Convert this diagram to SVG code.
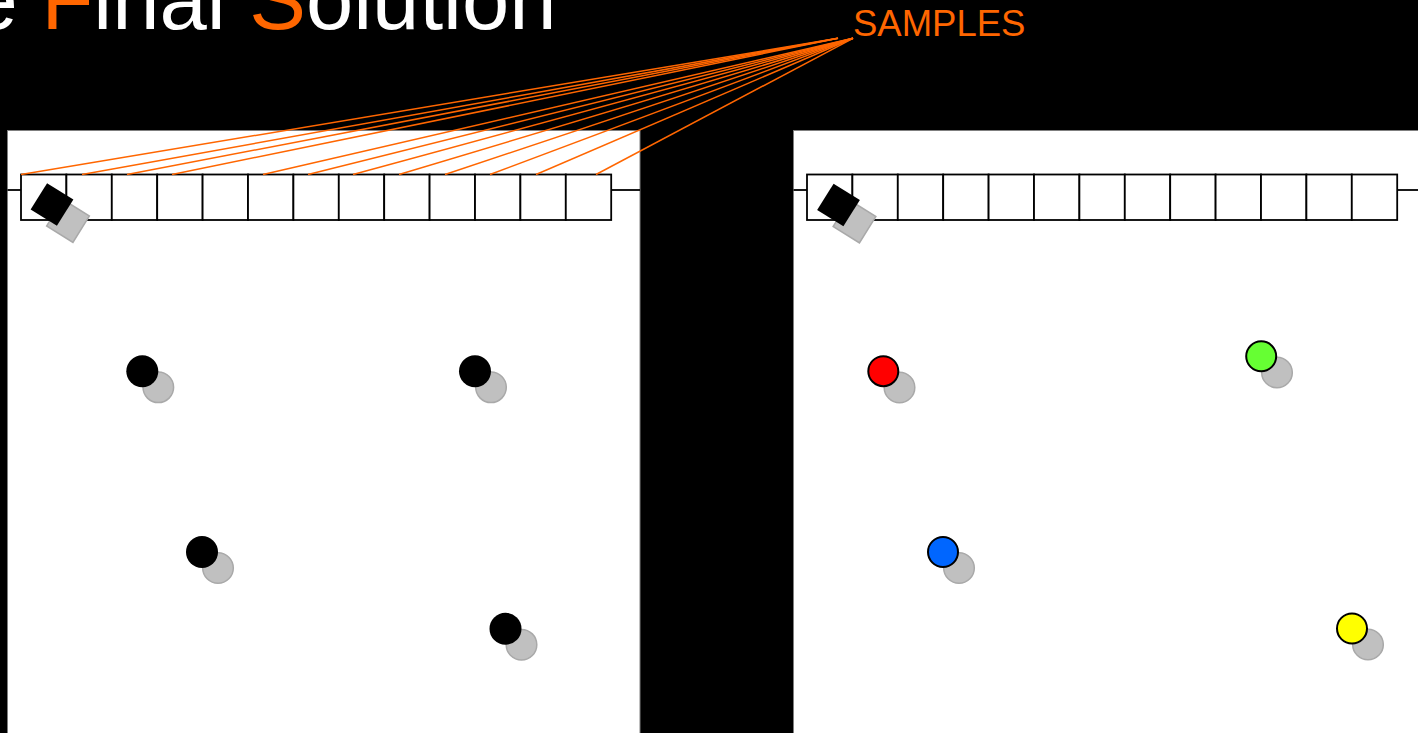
<svg xmlns="http://www.w3.org/2000/svg" width="1418" height="733" viewBox="0 0 1418 733">
  <style>
    .panel { fill: #ffffff; stroke: #7f7f7f; stroke-width: 1; }
    .cell { fill: #ffffff; stroke: #000000; stroke-width: 1.8; }
    .wire { stroke: #000000; stroke-width: 1.8; fill: none; }
    .ghost { fill: #c0c0c0; stroke: #a9a9a9; stroke-width: 1.5; }
    .robot { fill: #000000; }
    .lm { stroke: #000000; stroke-width: 2; }
    .sample { stroke: #ff6600; stroke-width: 1.5; fill: none; }
    .title { font-family: "Liberation Sans", Arial, sans-serif; font-size: 85px; fill: #ffffff; }
    .orange { fill: #ff6600; }
    .label { font-family: "Liberation Sans", Arial, sans-serif; font-size: 36.5px; fill: #ff6600; }
  </style>
  <defs>
    <g id="strip">
      <rect class="cell" x="0" y="0" width="45.4" height="45.5"/>
      <rect class="cell" x="45.4" y="0" width="45.4" height="45.5"/>
      <rect class="cell" x="90.8" y="0" width="45.4" height="45.5"/>
      <rect class="cell" x="136.2" y="0" width="45.4" height="45.5"/>
      <rect class="cell" x="181.6" y="0" width="45.4" height="45.5"/>
      <rect class="cell" x="227" y="0" width="45.4" height="45.5"/>
      <rect class="cell" x="272.4" y="0" width="45.4" height="45.5"/>
      <rect class="cell" x="317.8" y="0" width="45.4" height="45.5"/>
      <rect class="cell" x="363.2" y="0" width="45.4" height="45.5"/>
      <rect class="cell" x="408.6" y="0" width="45.4" height="45.5"/>
      <rect class="cell" x="454" y="0" width="45.4" height="45.5"/>
      <rect class="cell" x="499.4" y="0" width="45.4" height="45.5"/>
      <rect class="cell" x="544.8" y="0" width="45.4" height="45.5"/>
    </g>
    <g id="robotShape">
      <rect class="ghost" x="-15.5" y="-15.5" width="31" height="31" transform="translate(16,16.5) rotate(32)"/>
      <rect class="robot" x="-15.5" y="-15.5" width="31" height="31" transform="rotate(32)"/>
    </g>
  </defs>

  <rect x="0" y="0" width="1418" height="733" fill="#000000"/>

  <g id="title">
    <text class="title" x="-29.5" y="29">e <tspan class="orange">F</tspan>inal <tspan class="orange">S</tspan>olution</text>
  </g>

  <g id="left-panel">
    <rect class="panel" x="7.5" y="130.5" width="632.5" height="620"/>
    <line class="wire" x1="7.5" y1="190" x2="21" y2="190"/>
    <line class="wire" x1="611" y1="190" x2="640" y2="190"/>
    <use href="#strip" x="21" y="174.5"/>
    <use href="#robotShape" x="52" y="204.5"/>
  </g>

  <g id="right-panel">
    <rect class="panel" x="793.5" y="130.5" width="640" height="620"/>
    <line class="wire" x1="793.5" y1="190" x2="807" y2="190"/>
    <line class="wire" x1="1397" y1="190" x2="1418" y2="190"/>
    <use href="#strip" x="807" y="174.5"/>
    <use href="#robotShape" x="838.5" y="205"/>
  </g>

  <g id="left-landmarks">
    <circle class="ghost" cx="158.3" cy="387.3" r="15.3"/>
    <circle class="robot" cx="142.3" cy="371.3" r="16"/>
    <circle class="ghost" cx="491" cy="387.3" r="15.3"/>
    <circle class="robot" cx="475" cy="371.3" r="16"/>
    <circle class="ghost" cx="218" cy="568" r="15.3"/>
    <circle class="robot" cx="202" cy="552" r="16"/>
    <circle class="ghost" cx="521.5" cy="644.7" r="15.3"/>
    <circle class="robot" cx="505.5" cy="628.7" r="16"/>
  </g>

  <g id="right-landmarks">
    <circle class="ghost" cx="899.5" cy="387.5" r="15.3"/>
    <circle class="lm" cx="883.3" cy="371.2" r="15" fill="#ff0000"/>
    <circle class="ghost" cx="1277" cy="372.5" r="15.3"/>
    <circle class="lm" cx="1261.2" cy="356.3" r="15" fill="#66ff33"/>
    <circle class="ghost" cx="959" cy="568" r="15.3"/>
    <circle class="lm" cx="943" cy="552" r="15" fill="#0066ff"/>
    <circle class="ghost" cx="1368" cy="644.5" r="15.3"/>
    <circle class="lm" cx="1352" cy="628.5" r="15" fill="#ffff00"/>
  </g>

  <g id="connectors">
    <line class="sample" x1="21" y1="174.5" x2="838" y2="38.3"/>
    <line class="sample" x1="82" y1="174.5" x2="838" y2="38.3"/>
    <line class="sample" x1="127" y1="174.5" x2="838" y2="38.3"/>
    <line class="sample" x1="172" y1="174.5" x2="838" y2="38.3"/>
    <line class="sample" x1="263" y1="174.5" x2="853" y2="38.3"/>
    <line class="sample" x1="308" y1="174.5" x2="853" y2="38.3"/>
    <line class="sample" x1="353" y1="174.5" x2="853" y2="38.3"/>
    <line class="sample" x1="399" y1="174.5" x2="853" y2="38.3"/>
    <line class="sample" x1="445" y1="174.5" x2="853" y2="38.3"/>
    <line class="sample" x1="490" y1="174.5" x2="853" y2="38.3"/>
    <line class="sample" x1="536" y1="174.5" x2="853" y2="38.3"/>
    <line class="sample" x1="596" y1="174.5" x2="853" y2="38.3"/>
  </g>

  <g id="samples-label">
    <text class="label" x="853" y="36">SAMPLES</text>
  </g>
</svg>
